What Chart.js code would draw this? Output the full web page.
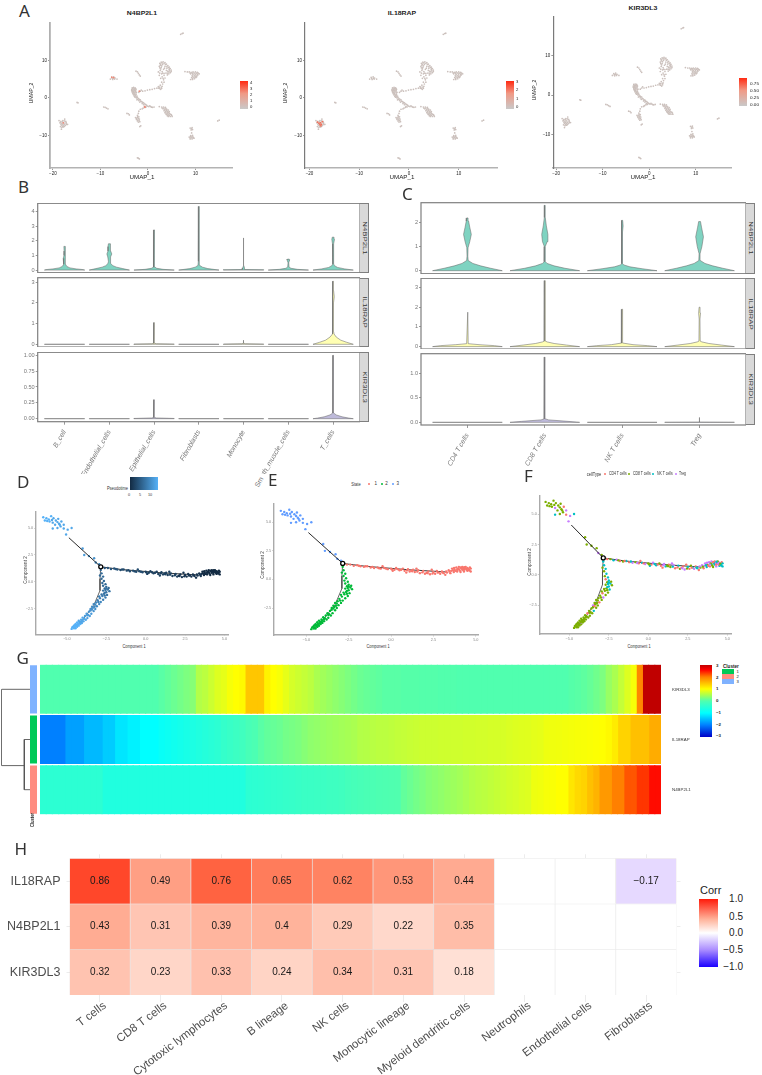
<!DOCTYPE html>
<html>
<head>
<meta charset="utf-8">
<script src="https://cdn.jsdelivr.net/npm/chart.js@4"></script>
<style>
  body { margin: 0; background: #fff; }
  #page { position: relative; width: 762px; height: 1075px; overflow: hidden; }
  #page canvas { position: absolute; }
  .txt { position: absolute; white-space: nowrap; line-height: 1; font-family: "Liberation Sans", sans-serif; }
  .box { position: absolute; box-sizing: border-box; }
</style>
</head>
<body>
<div id="page"></div>
<script>
// ---- Panel A: UMAP embedding, shared by the three genes
const umapPoints = [
  [2.5,9.2],[2.8,9.5],[3.2,9.6],[3.6,9.4],[3.9,9.0],[4.2,8.6],[4.5,8.2],[4.7,7.8],[4.9,7.4],[4.9,7.0],[4.7,6.7],[4.4,6.4],[4.1,6.1],
  [3.8,6.6],[4.2,7.1],[4.5,7.5],[4.0,7.9],[3.6,8.4],[3.1,8.9],[2.6,8.7],[2.4,8.4],[2.8,8.1],[3.3,7.6],[3.0,7.0],[2.6,7.3],[2.2,6.9],
  [2.9,6.4],[3.4,6.0],[2.4,6.0],[3.0,5.6],[3.6,5.3],[3.3,4.8],[2.9,4.2],[3.1,3.7],[2.6,3.4],[2.8,2.9],[2.3,2.6],[2.7,2.3],[2.2,3.0],
  [1.9,2.6],[1.4,2.5],[0.9,2.3],[0.4,2.2],[-0.1,2.1],[-0.6,1.9],[-1.1,1.8],[-1.6,1.8],[-1.9,1.5],[-1.4,2.1],
  [2.7,9.0],[3.0,9.3],[3.4,9.2],[3.7,8.9],[4.0,8.4],[4.3,8.1],[4.5,7.7],[4.6,7.2],[4.4,6.9],[4.1,6.6],[3.9,7.3],[3.5,7.9],[2.9,8.5],
  [2.5,8.0],[2.7,7.7],[3.1,6.6],[2.5,6.6],[3.4,6.5],[2.7,5.2],[3.2,5.2],[3.4,4.2],[3.0,3.1],[2.4,2.9],[2.5,2.5],[2.9,2.6],
  [-3.3,2.7],[-3.0,2.8],[-2.7,2.7],[-3.4,2.3],[-3.1,2.2],[-2.8,2.3],[-2.5,2.3],[-3.3,1.8],[-3.0,1.7],[-2.6,1.8],[-2.4,1.5],[-3.2,1.3],
  [-2.9,1.2],[-2.5,1.0],[-3.0,0.8],[-2.7,0.6],[-2.3,0.5],[-2.7,0.2],[-2.4,0.0],[-2.0,-0.2],[-2.3,-0.5],[-1.9,-0.7],[-1.6,-0.5],[-1.7,-1.1],
  [-1.3,-1.0],[-1.2,-1.5],[-0.9,-1.3],[-0.9,-1.8],[-0.5,-1.7],[-0.6,-2.2],[-0.2,-2.1],[0.2,-2.3],[0.6,-2.3],[1.0,-2.5],[1.3,-2.4],[-0.7,-2.5],[-1.0,-2.7],
  [-3.2,2.5],[-2.9,2.5],[-2.6,2.5],[-3.4,2.0],[-3.15,2.0],[-2.85,2.0],[-2.6,2.05],[-3.3,1.55],[-3.05,1.45],[-2.8,1.55],[-2.55,1.35],[-3.1,1.05],
  [-2.8,0.95],[-2.55,0.75],[-2.85,0.45],[-2.5,0.3],[-2.2,0.15],[-2.15,-0.35],[-1.8,-0.4],[-1.5,-0.85],[-1.1,-1.2],[-0.75,-1.55],[-0.3,-1.9],[0.0,-2.2],[0.4,-2.1],[0.8,-2.45],[-0.4,-2.4],
  [2.4,-2.3],[2.9,-2.4],[3.3,-2.4],[3.7,-2.5],[3.2,-2.9],[3.6,-3.0],[4.0,-3.0],[3.4,-3.4],[3.8,-3.5],[4.2,-3.5],[3.6,-3.9],[4.0,-4.0],
  [4.4,-3.9],[3.9,-4.4],[4.3,-4.5],[4.7,-4.3],[4.3,-4.9],[4.7,-4.9],[5.0,-4.6],[5.1,-4.9],
  [3.0,-2.7],[3.4,-2.7],[3.8,-2.8],[3.5,-3.2],[3.9,-3.25],[4.3,-3.2],[3.7,-3.7],[4.1,-3.75],[4.5,-3.65],[3.8,-4.2],[4.15,-4.25],[4.5,-4.15],[4.5,-4.6],[4.1,-4.7],[4.9,-4.4],
  [7.8,7.0],[8.3,6.9],[8.7,6.9],[9.1,6.8],[9.5,6.9],[10,6.9],[10.4,6.8],[9.0,6.4],[9.4,6.4],[9.9,6.4],[10.4,6.3],[10.8,6.4],[9.3,5.9],
  [9.8,5.9],[10.3,5.9],[9.2,5.4],[9.7,5.4],[10.1,5.4],[9.0,4.9],[9.4,4.9],
  [8.9,6.6],[9.3,6.65],[9.7,6.65],[10.2,6.6],[10.6,6.6],[9.5,6.15],[10,6.15],[10.5,6.1],[9.45,5.65],[9.95,5.65],[10.25,5.6],[9.4,5.15],[9.8,5.1],
  [-7.9,5.0],[-7.6,5.5],[-7.2,5.6],[-6.9,5.3],[-6.5,5.0],[-7.4,4.9],[-7.0,5.0],[-7.5,5.2],[-7.15,5.25],
  [-2.5,7.1],[-2.2,6.9],[-2.0,6.5],[-1.8,6.1],[-1.6,5.8],
  [-18.7,-6.0],[-18.3,-6.2],[-17.9,-6.0],[-17.5,-5.6],[-17.3,-6.2],[-18.5,-6.6],[-18.1,-6.7],[-17.7,-6.6],[-17.2,-6.8],[-16.9,-7.0],
  [-18.2,-7.2],[-17.8,-7.2],[-17.4,-7.3],[-18.1,-7.8],[-17.8,-7.7],[-18.2,-8.3],
  [-18.4,-6.4],[-18,-6.35],[-17.6,-6.1],[-17.2,-6.5],[-18.3,-6.95],[-17.95,-6.95],[-17.55,-6.95],[-17.1,-7.05],[-17.95,-7.5],[-17.6,-7.55],[-18.4,-7.6],
  [-9.3,-2.4],[-9.0,-2.5],[-8.7,-2.7],[-8.4,-2.9],[-14.7,-1.3],[-14.9,-1.2],[-4.4,-4.1],[-4.1,-4.2],[-3.9,-4.5],
  [-1.9,-3.5],[-2.0,-4.1],[-2.2,-4.6],[-2.6,-5.2],[-2.2,-5.2],[-1.9,-5.0],[-2.4,-5.7],[-2.1,-5.8],[-1.8,-5.6],[-2.0,-6.4],[-1.7,-6.3],
  [-2.4,-5.4],[-2.0,-5.4],[-2.15,-4.9],[-2.2,-6.1],[-1.85,-6.0],
  [-1.7,-7.6],[-1.5,-7.4],[-1.6,-3.0],[-1.2,-2.9],[15.0,-5.9],[14.7,-6.1],
  [8.9,-8.0],[9.3,-7.9],[9.1,-8.5],[9.4,-8.4],[9.0,-10.0],[9.4,-9.9],[8.7,-10.4],[9.1,-10.5],[9.5,-10.4],[8.9,-10.9],[9.3,-10.9],[9.7,-10.7],[9.2,-9.3],
  [9.0,-10.2],[9.3,-10.2],[8.9,-10.65],[9.3,-10.65],[9.6,-10.55],[9.2,-8.2],
  [-2.0,-16],[-1.8,-16.2],[-2.2,-15.9],[7.2,17.1],[6.9,16.9],[7.4,17.2]
];
const n4bp2l1Hits = [[-7.6,5.5],[-7.2,5.4],[-0.7,-2.3],[-0.6,-2.5],[-1.8,1.8],[-17.8,-6.6]];
const il18rapHits = [[-18.1,-6.7],[-17.8,-6.6],[-17.9,-7.1],[-17.6,-7.0],[-17.4,-6.3],[-18.4,-6.4],[-17.7,-7.4]];
const umapXTicks = [-20, -10, 0, 10];
const umapYTicks = [-10, 0, 10];

// ---- Panels B and C: violin profiles as [expression, half width in category units]
const flat = [[0,0.45],[0.001,0.45]];
const broadCells = ["B_cell","Endothelial_cells","Epithelial_cells","Fibroblasts","Monocyte","Smooth_muscle_cells","T_cells"];
const tCells = ["CD4 T cells","CD8 T cells","NK T cells","Treg"];

const broadN4bp2l1 = [
  [[0,.45],[.03,.42],[.08,.26],[.15,.12],[.25,.05],[.4,.02],[.6,.02],[.8,.03],[1,.012],[1.3,.01],[1.62,.015]],
  [[0,.45],[.1,.3],[.2,.16],[.3,.08],[.45,.03],[.6,.02],[.9,.035],[1.1,.055],[1.3,.03],[1.6,.03],[1.8,.02]],
  [[0,.45],[.05,.2],[.12,.06],[.2,.02],[.5,.01],[2,.01],[2.75,.005]],
  [[0,.45],[.1,.2],[.2,.08],[.32,.02],[.6,.008],[1,.015],[2,.01],[4.35,.006]],
  [[0,.45],[.02,.45],[.04,.03],[.15,.02],[.3,.005],[2.2,.005]],
  [[0,.45],[.05,.2],[.12,.06],[.2,.015],[.5,.008],[.7,.03],[.75,.02]],
  [[0,.45],[.08,.26],[.18,.1],[.3,.03],[.42,.01],[1,.01],[1.3,.008],[1.8,.015],[2.1,.03],[2.25,.02]]
];
const broadIl18rap = [
  flat, flat,
  [[0,.45],[.01,.45],[.03,.05],[.05,.01],[1.05,.004]],
  flat,
  [[0,.45],[.01,.45],[.03,.04],[.05,.008],[.2,.004]],
  flat,
  [[0,.45],[.1,.3],[.2,.17],[.35,.07],[.5,.02],[.6,.012],[1.2,.006],[2,.01],[2.3,.025],[2.6,.01],[3.05,.005]]
];
const broadKir3dl3 = [
  flat, flat,
  [[0,.45],[.004,.45],[.012,.05],[.02,.01],[.3,.004]],
  flat, flat, flat,
  [[0,.45],[.01,.35],[.03,.2],[.06,.07],[.09,.01],[.11,.006],[1,.004]]
];
const tN4bp2l1 = [
  [[0,.45],[.1,.3],[.2,.17],[.3,.07],[.42,.01],[.6,.005],[.95,.008],[1.2,.03],[1.5,.05],[1.8,.03],[2.05,.015],[2.18,.008]],
  [[0,.45],[.1,.26],[.2,.12],[.3,.03],[.37,.008],[1,.006],[1.2,.03],[1.5,.04],[1.85,.02],[2.2,.006],[2.7,.005]],
  [[0,.45],[.08,.26],[.16,.1],[.24,.02],[.29,.006],[1.6,.004],[1.85,.012],[2.08,.006]],
  [[0,.45],[.1,.3],[.2,.17],[.3,.07],[.42,.01],[.7,.006],[1,.03],[1.4,.05],[1.8,.025],[2.03,.012]]
];
const tIl18rap = [
  [[0,.45],[.05,.35],[.1,.15],[.15,.01],[1.75,.004]],
  [[0,.45],[.08,.28],[.16,.12],[.24,.03],[.28,.008],[1.6,.006],[2.6,.008],[3.35,.004]],
  [[0,.45],[.05,.33],[.1,.14],[.18,.01],[1.9,.005]],
  [[0,.45],[.08,.28],[.16,.12],[.24,.03],[.28,.008],[1.4,.005],[1.7,.012],[2,.006]]
];
const tKir3dl3 = [
  flat,
  [[0,.45],[.02,.3],[.05,.05],[.07,.008],[1.33,.003]],
  flat,
  [[0,.45],[.002,.45],[.005,.004],[.1,.003]]
];

// ---- Panels D, E, F: cells on the trajectory as [component 1, component 2, pseudotime, cell type]
const trajUpper = [
  [-6.5,6.0,13,1],[-6.3,5.9,13,1],[-6.4,5.7,13,1],[-6.15,5.8,13,1],[-6.0,6.1,13,1],[-6.1,5.6,13,1],[-5.85,5.9,12,1],[-5.9,5.5,12,3],[-5.7,5.7,12,1],
  [-5.55,5.85,12,1],[-5.75,5.3,12,1],[-5.5,5.4,12,1],[-5.35,5.6,12,0],[-5.4,5.15,12,1],[-5.2,5.3,12,3],[-5.2,4.95,12,0],[-4.95,4.85,12,3],[-4.7,5.0,12,2],
  [-5.6,5.0,12,1],[-5.05,4.4,12,3],[-5.9,4.95,12,2],[-6.25,5.65,13,1],[-5.95,5.75,12,1],[-5.6,5.55,12,1],[-5.45,5.3,12,1],
  [-4.0,3.1,11,1],[-3.9,2.5,11,1],[-3.6,2.4,10,1],[-3.27,2.2,10,1],[-3.17,1.8,10,3],[-2.95,1.65,9,1]
];
const trajLower = [
  [-2.85,1.1,6,2],[-2.8,.8,6,2],[-2.9,.6,6,1],[-2.7,.5,6,2],[-2.8,.3,6,1],[-2.65,.1,6,2],[-2.75,-.1,6,1],[-2.55,-.2,6,2],[-2.7,-.35,6,0],[-2.5,-.45,6,2],
  [-2.6,-.6,6,1],[-2.4,-.7,7,2],[-2.7,-.8,7,1],[-2.5,-.95,7,2],[-2.3,-.85,7,1],[-2.65,-1.1,7,1],[-2.45,-1.2,7,2],[-2.75,-1.3,8,1],[-2.55,-1.45,8,1],[-2.9,-1.5,8,0],
  [-2.7,-1.65,8,1],[-3.05,-1.7,8,1],[-2.85,-1.85,9,3],[-3.15,-1.9,9,1],[-2.95,-2.05,9,1],[-3.3,-2.05,9,1],[-3.1,-2.25,9,0],[-3.4,-2.3,9,1],[-3.2,-2.5,10,1],[-3.5,-2.5,10,3],
  [-3.3,-2.7,10,1],[-3.6,-2.75,10,1],[-3.45,-2.95,11,2],[-3.75,-2.95,11,1],[-3.55,-3.15,11,1],[-3.85,-3.15,11,0],[-3.7,-3.35,11,1],[-4.0,-3.3,12,1],[-3.8,-3.5,12,1],[-4.1,-3.5,12,1],
  [-3.95,-3.65,12,1],[-4.25,-3.6,12,1],[-4.05,-3.8,12,1],[-4.35,-3.75,13,1],[-4.15,-3.9,13,1],[-4.45,-3.9,13,1],[-4.25,-4.05,13,1],[-4.55,-4.05,13,1],[-4.35,-4.15,13,1],[-4.65,-4.2,13,1],
  [-4.45,-4.3,13,1],[-4.7,-4.35,13,1],[-4.2,-3.7,12,1],[-4.4,-4.0,13,1],[-4.5,-4.2,13,1],[-4.3,-3.95,13,3],[-3.65,-3.05,11,1],[-3.35,-2.4,10,1],[-2.6,-1.0,7,2],[-2.5,-.6,7,2],
  [-2.55,-.75,7,2],[-2.35,-.55,6,1],[-2.6,-1.25,7,1],[-2.8,-1.15,7,1],[-3.0,-1.85,8,1],[-2.95,-1.35,8,1],[-3.2,-2.1,9,1],[-3.25,-2.3,9,1],[-3.5,-2.65,10,1],[-3.4,-2.55,10,0],
  [-3.7,-3.1,11,1],[-3.9,-3.4,12,1],[-3.95,-3.45,12,1],[-4.1,-3.7,12,1],[-4.2,-3.85,13,1],[-4.3,-3.85,13,1],[-4.4,-4.1,13,1],[-4.6,-4.15,13,1],[-4.55,-4.3,13,1],[-4.5,-4.0,13,1],
  [-4.35,-4.0,13,1],[-4.05,-3.6,12,1],[-4.15,-3.75,12,1]
];
const trajRight = [
  [-2.6,1.3,4,0],[-2.4,1.3,4,1],[-2.2,1.2,4,2],[-2.0,1.25,4,3],[-1.8,1.15,4,0],[-1.6,1.1,3,1],[-1.4,1.15,3,2],[-1.2,1.05,3,0],[-1.0,1.0,3,3],[-.8,1.05,3,1],
  [-.6,.95,3,0],[-.4,1.0,3,2],[-.2,.9,3,3],[0,.95,2,1],[.2,.85,2,0],[.3,1.0,2,3],[.5,.8,2,2],[.7,.95,2,1],[.8,.75,2,0],[1.0,.9,2,3],
  [1.1,.7,2,2],[1.3,.85,2,0],[1.4,.65,2,1],[1.6,.8,2,3],[1.7,.55,2,0],[1.9,.75,2,2],[2.0,.5,2,1],[2.2,.7,1,0],[2.3,.45,1,3],[2.5,.65,1,2],
  [2.6,.5,1,0],[2.7,.75,1,1],[2.9,.5,1,3],[3.0,.7,1,0],[3.1,.55,1,2],[3.3,.6,1,1],[3.4,.8,1,3],[3.5,.55,1,0],[3.6,.95,0,3],[3.7,.65,0,2],
  [3.75,.85,0,1],[3.85,1.05,0,3],[3.9,.7,0,0],[4.0,.9,0,2],[4.0,1.1,0,3],[4.1,.65,0,1],[4.2,.85,0,2],[4.2,1.1,0,0],[4.3,.7,0,3],[4.35,.95,0,2],
  [4.4,1.1,0,1],[4.5,.75,0,2],[4.5,1.0,0,3],[4.6,.85,0,2],[4.65,1.05,0,0],[4.7,.7,0,2],[4.7,.95,0,2],[3.2,.4,1,0],[2.4,.85,1,0],[1.5,.95,2,3],
  [.9,.6,2,0],[.1,.75,2,2],[-.5,1.15,3,0],[3.55,.75,1,3],[3.95,.95,0,1],[4.25,1.0,0,3],[4.45,.85,0,0],[2.8,.62,1,2],[2.1,.58,1,0],[1.2,.78,2,1],
  [-1.9,1.2,4,1],[-1.5,1.15,3,0],[-1.1,1.1,3,2],[-.7,.98,3,3],[-.3,.95,3,0],[.05,.88,2,1],[.4,.9,2,2],[.6,.85,2,0],[.95,.8,2,3],[1.25,.72,2,1],
  [1.55,.68,2,2],[1.85,.62,2,0],[2.15,.55,1,3],[2.45,.52,1,1],[2.75,.6,1,0],[3.05,.62,1,2],[3.25,.7,1,3],[3.45,.68,1,1],[3.65,.8,0,2],[3.8,.75,0,0],
  [3.9,.85,0,3],[4.05,.78,0,1],[4.15,.98,0,2],[4.3,.85,0,0],[4.42,.95,0,3],[4.55,.92,0,1],[4.62,.78,0,2],[3.72,1.0,0,3],[4.1,1.05,0,0],[4.32,1.08,0,2]
];
const treeUpper = [[-4.875,4.1],[-2.85,1.4]];
const treeRight = [[-2.85,1.4],[-1.5,1.15],[1,.85],[3.3,.65]];
const treeLower = [[-2.85,1.4],[-2.9,.3],[-2.9,-.8],[-3.3,-2.2],[-4.2,-3.87]];
const branchPoint = [[-2.85,1.4]];
const trajXTicks = [-5, -2.5, 0, 2.5, 5];
const trajYTicks = [-2.5, 0, 2.5, 5];

// ---- Panel G: scaled expression along pseudotime
const heatGenes = ["KIR3DL3","IL18RAP","N4BP2L1"];
const heatKir3dl3 = [
  0,0,0,0,0,0,0,0,0,0,0,0,0,0,0,0,0,0,0,.05,.1,.15,.2,.25,.3,.55,.6,.7,.8,.85,.95,1,1.05,1.45,1.45,1.45,1.1,1,.95,.85,
  .75,.7,.65,.6,.5,.45,.4,.35,.3,.25,.2,.15,.12,.1,.08,.05,.05,.05,.03,.03,.03,.02,.02,.02,.01,.01,.01,0,0,0,0,0,0,0,0,0,0,0,0,0,
  0,0,0,0,0,.03,.05,.08,.12,.18,.25,.4,.5,.65,.8,.95,1.95,3,3,3
];
const heatIl18rap = [
  -2,-2,-2,-2,-1.75,-1.75,-1.75,-1.55,-1.55,-1.55,-1.4,-1.4,-1.2,-1.2,-1.1,-1.1,-1,-1,-1,-.9,-.85,-.8,-.75,-.7,-.65,-.6,-.55,-.5,-.45,-.35,
  -.3,-.25,-.2,-.1,-.05,.05,.1,.12,.15,.2,.22,.25,.3,.35,.37,.4,.42,.44,.46,.48,.5,.55,.56,.58,.6,.6,.62,.64,.65,.67,.68,.7,.7,.7,.71,.71,.72,.72,.73,.73,
  .74,.74,.75,.75,.76,.78,.8,.81,.82,.84,.85,.9,.91,.92,.93,.94,.95,.96,.97,.98,1,1.05,1.15,1.35,1.35,1.5,1.5,1.5,1.65,1.65
];
const heatN4bp2l1 = [
  -.45,-.45,-.45,-.45,-.45,-.45,-.45,-.45,-.45,-.45,-.6,-.6,-.6,-.6,-.6,-.6,-.6,-.6,-.6,-.6,-.6,-.6,-.6,-.6,-.6,-.6,-.6,-.6,-.6,-.6,-.6,-.6,-.6,
  -.45,-.44,-.42,-.4,-.38,-.36,-.34,-.32,-.3,-.28,-.27,-.26,-.25,-.23,-.22,-.2,-.15,-.13,-.1,-.08,-.06,-.04,-.02,-.01,0,.1,.15,.2,.25,.3,.33,.36,.4,.43,.46,.5,
  .55,.58,.6,.63,.66,.7,.73,.75,.78,.8,.9,.92,.95,.97,1,1,1.2,1.3,1.35,1.5,1.6,1.8,1.8,2,2,2.2,2.2,2.35,2.35,2.55,2.55
];
const clusterColors = ["#7FB2FF","#00C957","#FF8C80"];
// dendrogram legs: [height, row]
const dendroRoot = [[0,1],[1,1],[1,2.52],[.2,2.52]];
const dendroSub = [[0,2],[.2,2],[.2,3],[0,3]];
const heatTicks = [3, 2, 1, 0, -1, -2, -3];

// ---- Panel H: correlation matrix
const corrCells = ["T cells","CD8 T cells","Cytotoxic lymphocytes","B lineage","NK cells","Monocytic lineage","Myeloid dendritic cells","Neutrophils","Endothelial cells","Fibroblasts"];
const corrGenes = ["KIR3DL3","N4BP2L1","IL18RAP"];
const corrIl18rap = [0.86,0.49,0.76,0.65,0.62,0.53,0.44,null,null,-0.17];
const corrN4bp2l1 = [0.43,0.31,0.39,0.4,0.29,0.22,0.35,null,null,null];
const corrKir3dl3 = [0.32,0.23,0.33,0.24,0.34,0.31,0.18,null,null,null];

// ---- Helpers
Chart.defaults.animation = false;
Chart.defaults.responsive = false;
Chart.defaults.events = [];
Chart.defaults.plugins.legend.display = false;
Chart.defaults.plugins.tooltip.enabled = false;
Chart.defaults.font.family = '"Liberation Sans", sans-serif';

const page = document.getElementById("page");

function addText(text, x, y, opts) {
  const o = opts || {};
  const el = document.createElement("div");
  el.className = "txt";
  el.textContent = text;
  el.style.left = x + "px";
  el.style.top = y + "px";
  el.style.fontSize = (o.size || 5) + "px";
  el.style.color = o.color || "#222";
  if (o.weight) el.style.fontWeight = o.weight;
  if (o.family) el.style.fontFamily = o.family;
  const ax = o.anchor === "start" ? "0" : o.anchor === "end" ? "-100%" : "-50%";
  el.style.transformOrigin = (o.anchor === "start" ? "0" : o.anchor === "end" ? "100%" : "50%") + " 50%";
  el.style.transform = "translate(" + ax + ",-50%) rotate(" + (o.rotate || 0) + "deg) scaleX(" + (o.stretch || 1) + ")";
  page.appendChild(el);
}

function addBox(left, top, right, bottom, style) {
  const el = document.createElement("div");
  el.className = "box";
  el.style.left = left + "px";
  el.style.top = top + "px";
  el.style.width = right - left + "px";
  el.style.height = bottom - top + "px";
  Object.assign(el.style, style);
  page.appendChild(el);
}

function addDot(x, y, color) {
  addBox(x - 1, y - 1, x + 1, y + 1, { background: color, borderRadius: "50%" });
}

// puts a chart on the page so that its plot area sits exactly on `area`
function placeChart(area, margin, config) {
  const cl = Math.floor(area.left - margin.l);
  const ct = Math.floor(area.top - margin.t);
  const cr = Math.ceil(area.right + margin.r);
  const cb = Math.ceil(area.bottom + margin.b);
  const m = { left: area.left - cl, top: area.top - ct, right: cr - area.right, bottom: cb - area.bottom };
  const canvas = document.createElement("canvas");
  canvas.width = cr - cl;
  canvas.height = cb - ct;
  canvas.style.left = cl + "px";
  canvas.style.top = ct + "px";
  page.appendChild(canvas);

  const used = {};
  for (const id of Object.keys(config.options.scales)) {
    const s = config.options.scales[id];
    const pos = s.position || (id[0] === "x" ? "bottom" : "left");
    used[pos] = true;
    s.afterFit = function (scale) {
      if (pos === "top" || pos === "bottom") scale.height = m[pos];
      else scale.width = m[pos];
      scale.paddingLeft = scale.paddingRight = scale.paddingTop = scale.paddingBottom = 0;
    };
  }
  config.options.layout = {
    padding: {
      left: used.left ? 0 : m.left,
      top: used.top ? 0 : m.top,
      right: used.right ? 0 : m.right,
      bottom: used.bottom ? 0 : m.bottom,
    },
  };
  return new Chart(canvas, config);
}

function linearAxis(min, max, tickValues, look) {
  return {
    type: "linear",
    min: min,
    max: max,
    position: look.position,
    afterBuildTicks: function (scale) {
      scale.ticks = tickValues.map((v) => ({ value: v }));
    },
    ticks: {
      display: look.labels !== false,
      font: { size: look.size, style: look.style },
      color: look.color,
      padding: look.padding === undefined ? 1 : look.padding,
      autoSkip: false,
      minRotation: look.rotation || 0,
      maxRotation: look.rotation || 0,
      callback: look.format,
    },
    grid: {
      display: tickValues.length > 0,
      drawOnChartArea: false,
      drawTicks: true,
      tickLength: look.tickLength === undefined ? 2 : look.tickLength,
      tickColor: look.tickColor || "#555",
      tickWidth: 0.6,
    },
    border: { display: look.line !== false, color: look.line, width: look.lineWidth || 1 },
  };
}

function signed(v) {
  return v < 0 ? "\u2212" + Math.abs(v) : String(v);
}
function signedFixed(v) {
  return v < 0 ? "\u2212" + Math.abs(v).toFixed(1) : v.toFixed(1);
}

function asXY(list) {
  return list.map((p) => ({ x: p[0], y: p[1] }));
}

// ---- Panel A
function umapPanel(area, xr, yr, hits, hitColor, axisColor, axisWidth) {
  placeChart(area, { l: 16, t: 0, r: 2, b: 8 }, {
    type: "scatter",
    data: {
      datasets: [
        { data: asXY(hits), pointRadius: 0.9, pointBackgroundColor: hitColor, pointBorderWidth: 0 },
        { data: asXY(umapPoints), pointRadius: 0.85, pointBackgroundColor: "#cbc0bc", pointBorderWidth: 0 },
      ],
    },
    options: {
      scales: {
        x: linearAxis(xr[0], xr[1], umapXTicks, { size: 4.5, color: "#222", format: signed, line: "#b3b3b3", lineWidth: 1.6 }),
        y: linearAxis(yr[0], yr[1], umapYTicks, { size: 4.5, color: "#222", format: signed, line: axisColor, lineWidth: axisWidth }),
      },
    },
  });
}

umapPanel({ left: 50, top: 19, right: 234, bottom: 168 }, [-20.6, 17.7], [-18.6, 19.9], n4bp2l1Hits, "#ee8a78", "#b0b0b0", 1.8);
umapPanel({ left: 305, top: 19, right: 498.7, bottom: 168 }, [-20.9, 17.7], [-18.6, 19.9], il18rapHits, "#f0705a", "#7a7a7a", 1.2);
umapPanel({ left: 553.3, top: 13, right: 732.7, bottom: 168 }, [-20.6, 17.6], [-18.6, 19.9], [], "#f0705a", "#7a7a7a", 1.2);

function umapText(title, cx, titleY, yLabelX, yLabelY) {
  addText(title, cx, titleY, { size: 6, weight: "bold", stretch: 1.15 });
  addText("UMAP_1", cx, 178, { size: 5.2, stretch: 1.2 });
  addText("UMAP_2", yLabelX, yLabelY, { size: 5.2, rotate: -90 });
}
umapText("N4BP2L1", 141.7, 13.3, 32, 93);
umapText("IL18RAP", 402, 13.3, 286, 93);
umapText("KIR3DL3", 642.7, 8, 535, 90);

const exprGradient = { background: "linear-gradient(to top, #c9c9c9, #f09a86 55%, #ff2a12)" };
addBox(240, 81, 248, 108.5, exprGradient);
addBox(506, 81, 514, 108.5, exprGradient);
addBox(739, 78, 747, 106, exprGradient);
[["4",83.3],["3",89.3],["2",95],["1",101],["0",106.7]].forEach((t) => addText(t[0], 250, t[1], { size: 4.2, anchor: "start" }));
[["3",82],["2",90.3],["1",98.7],["0",107]].forEach((t) => addText(t[0], 516, t[1], { size: 4.2, anchor: "start" }));
[["0.75",84],["0.50",91],["0.25",98],["0.00",105]].forEach((t) => addText(t[0], 750, t[1], { size: 4.2, anchor: "start", stretch: 1.1 }));

// ---- Panels B and C
const panelFrame = {
  id: "panelFrame",
  afterDraw(chart) {
    const a = chart.chartArea;
    const c = chart.ctx;
    c.save();
    c.strokeStyle = "#7f7f7f";
    c.lineWidth = 1.2;
    c.strokeRect(a.left, a.top, a.right - a.left, a.bottom - a.top);
    c.restore();
  },
};

function violinOutline(pos, profile) {
  const right = profile.map((p) => ({ x: pos + p[1], y: p[0] }));
  const left = profile.map((p) => ({ x: pos - p[1], y: p[0] })).reverse();
  return right.concat(left, [right[0]]);
}

function violinRow(area, profiles, fill, xMax, yr, yTicks, yFormat, labels, stripRight, gene) {
  const xTicks = labels ? labels.map((n, i) => i + 1) : [];
  const datasets = profiles.map((profile, i) => ({
    data: violinOutline(i + 1, profile),
    showLine: true,
    fill: "shape",
    backgroundColor: fill,
    borderColor: "#6a6a6a",
    borderWidth: 0.55,
    pointRadius: 0,
  }));
  placeChart(area, { l: 20, t: 0, r: 0, b: labels ? 52 : 0 }, {
    type: "scatter",
    data: { datasets: datasets },
    options: {
      scales: {
        x: linearAxis(0.4, xMax, xTicks, {
          size: 7, style: "italic", color: "#777", rotation: 60, padding: 4, tickLength: 3,
          line: false, format: (v) => (labels ? labels[v - 1] : ""),
        }),
        y: linearAxis(yr[0], yr[1], yTicks, {
          size: 5.6, color: "#777", padding: 1, tickLength: 2, line: false, format: yFormat,
        }),
      },
    },
    plugins: [panelFrame],
  });
  addBox(area.right, area.top, stripRight, area.bottom, { background: "#d9d9d9", border: "1.2px solid #7f7f7f", borderLeft: "none" });
  addText(gene, (area.right + stripRight) / 2, (area.top + area.bottom) / 2, { size: 6, rotate: 90, color: "#333", stretch: 1.3 });
}

const plain = (v) => String(v);
const twoPlaces = (v) => v.toFixed(2);
const onePlace = (v) => v.toFixed(1);

violinRow({ left: 37.7, top: 203.3, right: 360, bottom: 272.7 }, broadN4bp2l1, "#7fd3c1", 7.6, [-0.18, 4.57], [0,1,2,3,4], plain, null, 369.3, "N4BP2L1");
violinRow({ left: 37.7, top: 277.7, right: 360, bottom: 347 }, broadIl18rap, "#FFFFB3", 7.6, [-0.13, 3.22], [0,1,2,3], plain, null, 369.3, "IL18RAP");
violinRow({ left: 37.7, top: 352.3, right: 360, bottom: 421.7 }, broadKir3dl3, "#BEBADA", 7.6, [-0.047, 1.047], [0,.25,.5,.75,1], twoPlaces, broadCells, 369.3, "KIR3DL3");

violinRow({ left: 421, top: 202.7, right: 746, bottom: 273.7 }, tN4bp2l1, "#7fd3c1", 4.6, [-0.124, 2.81], [0,1,2], plain, null, 755, "N4BP2L1");
violinRow({ left: 421, top: 278.3, right: 746, bottom: 349 }, tIl18rap, "#FFFFB3", 4.6, [-0.12, 3.47], [0,1,2,3], plain, null, 755, "IL18RAP");
violinRow({ left: 421, top: 353.7, right: 746, bottom: 425 }, tKir3dl3, "#BEBADA", 4.6, [-0.054, 1.40], [0,.5,1], onePlace, tCells, 755, "KIR3DL3");

// tail of the clipped "Smooth_muscle_cells" label, left showing under the B axis
addText("Sm", 258.5, 481.5, { size: 7, rotate: -60, color: "#777" });

// ---- Panels D, E, F
const typeColors = ["#F8766D", "#7CAE00", "#00BFC4", "#C77CFF"];

function pseudotimeColor(t) {
  const f = t / 13;
  const r = Math.round(19 + (86 - 19) * f);
  const g = Math.round(43 + (177 - 43) * f);
  const b = Math.round(67 + (247 - 67) * f);
  return "rgb(" + r + "," + g + "," + b + ")";
}

function cellsDataset(list, colorOf) {
  return {
    data: list.map((p) => ({ x: p[0], y: p[1], t: p[2], c: p[3] })),
    pointRadius: 1.2,
    pointBorderWidth: 0,
    pointBackgroundColor: (ctx) => (ctx.raw ? colorOf(ctx.raw) : "#000"),
  };
}

function treeDataset(list, color) {
  return { data: asXY(list), showLine: true, borderColor: color, borderWidth: 0.9, pointRadius: 0 };
}

function trajectoryPanel(area, xr, yr, colorUpper, colorLower, colorRight) {
  placeChart(area, { l: 16, t: 0, r: 2, b: 8 }, {
    type: "scatter",
    data: {
      datasets: [
        { data: asXY(branchPoint), pointRadius: 2, pointBackgroundColor: "#fff", pointBorderColor: "#000", pointBorderWidth: 1.3 },
        treeDataset(treeUpper, "#111"),
        cellsDataset(trajRight, colorRight),
        cellsDataset(trajLower, colorLower),
        cellsDataset(trajUpper, colorUpper),
        treeDataset(treeRight, "#222"),
        treeDataset(treeLower, "#555"),
      ],
    },
    options: {
      scales: {
        x: linearAxis(xr[0], xr[1], trajXTicks, { size: 3.8, color: "#888", format: signedFixed, line: "#aaa", lineWidth: 1.4, tickColor: "#aaa", tickLength: 1.5 }),
        y: linearAxis(yr[0], yr[1], trajYTicks, { size: 3.8, color: "#888", format: signedFixed, line: "#aaa", lineWidth: 1.4, tickColor: "#aaa", tickLength: 1.5 }),
      },
    },
  });
}

const byPseudotime = (p) => pseudotimeColor(p.t);
const byType = (p) => typeColors[p.c];
trajectoryPanel({ left: 35.7, top: 506.7, right: 231.7, bottom: 634.3 }, [-6.98, 5.27], [-4.85, 6.55], byPseudotime, byPseudotime, byPseudotime);
trajectoryPanel({ left: 273.7, top: 498, right: 481.7, bottom: 635 }, [-6.92, 5.17], [-4.86, 6.66], () => "#619CFF", () => "#00BA38", () => "#F8766D");
trajectoryPanel({ left: 539.3, top: 490, right: 735, bottom: 634 }, [-6.9, 5.28], [-4.85, 6.54], byType, byType, byType);

addText("Component 1", 134, 646.5, { size: 4.8, color: "#333", stretch: 0.8 });
addText("Component 1", 378, 646.5, { size: 4.8, color: "#333", stretch: 0.8 });
addText("Component 1", 639, 646.5, { size: 4.8, color: "#333", stretch: 0.8 });
addText("Component 2", 26, 570, { size: 4.6, rotate: -90, color: "#444" });
addText("Component 2", 263, 565, { size: 4.6, rotate: -90, color: "#444" });
addText("Component 2", 530, 562, { size: 4.6, rotate: -90, color: "#444" });

addText("Pseudotime", 128, 488, { size: 5, anchor: "end", color: "#333", stretch: 0.8 });
addBox(130, 476.7, 157.7, 490.3, { background: "linear-gradient(to right, #132B43, #56B1F7)" });
[["0",129],["5",140],["10",150]].forEach((t) => addText(t[0], t[1], 495.7, { size: 3.8, color: "#333" }));

addText("State", 356, 484, { size: 5, color: "#333", stretch: 0.8 });
addDot(369, 484, "#F8766D"); addText("1", 375.7, 484, { size: 4.5, color: "#333" });
addDot(382, 484, "#00BA38"); addText("2", 386.5, 484, { size: 4.5, color: "#333" });
addDot(393, 484, "#619CFF"); addText("3", 397.7, 484, { size: 4.5, color: "#333" });

addText("cellType", 594, 474.3, { size: 5, color: "#333", stretch: 0.8 });
[["CD4 T cells", 605, 608.5], ["CD8 T cells", 629.3, 633], ["NK T cells", 653.3, 657], ["Treg", 675.7, 679.3]].forEach((t, i) => {
  addDot(t[1], 474.3, typeColors[i]);
  addText(t[0], t[2], 474.3, { size: 4.8, anchor: "start", color: "#333", stretch: 0.72 });
});

// ---- Panel G
const heatStops = [
  [-3,[0,0,200]],[-2,[0,128,255]],[-1,[0,255,255]],[0,[80,255,175]],[0.5,[170,255,80]],[1,[255,255,0]],[2,[255,128,0]],[2.6,[255,0,0]],[3,[192,0,0]]
];

function rampColor(stops, v) {
  let i = 0;
  while (i < stops.length - 2 && v > stops[i + 1][0]) i++;
  const a = stops[i];
  const b = stops[i + 1];
  const f = Math.min(1, Math.max(0, (v - a[0]) / (b[0] - a[0])));
  const c = a[1].map((x, k) => Math.round(x + (b[1][k] - x) * f));
  return "rgb(" + c.join(",") + ")";
}

function heatColor(v) {
  return rampColor(heatStops, v);
}

const heatColumns = heatKir3dl3.map((v, i) => ({
  data: [1, 1, 1],
  backgroundColor: [heatColor(heatKir3dl3[i]), heatColor(heatIl18rap[i]), heatColor(heatN4bp2l1[i])],
  borderWidth: 0,
  inflateAmount: 0.6,
  barPercentage: 0.95,
  categoryPercentage: 1,
}));

placeChart({ left: 40, top: 664.2, right: 661, bottom: 814.8 }, { l: 0, t: 0, r: 36, b: 0 }, {
  type: "bar",
  data: { labels: heatGenes, datasets: heatColumns },
  options: {
    indexAxis: "y",
    scales: {
      x: { type: "linear", stacked: true, min: 0, max: heatColumns.length, display: false },
      y: {
        type: "category",
        stacked: true,
        position: "right",
        ticks: { font: { size: 4.4 }, color: "#333", padding: 3, autoSkip: false },
        grid: { display: false },
        border: { display: false },
      },
    },
  },
});

// annotation column beside the heatmap
placeChart({ left: 30, top: 664.2, right: 37, bottom: 814.8 }, { l: 0, t: 0, r: 0, b: 0 }, {
  type: "bar",
  data: { labels: heatGenes, datasets: [{ data: [1, 1, 1], backgroundColor: clusterColors, barPercentage: 0.96, categoryPercentage: 1, borderWidth: 0 }] },
  options: {
    indexAxis: "y",
    scales: {
      x: { type: "linear", min: 0, max: 1, display: false },
      y: { type: "category", display: false },
    },
  },
});

// dendrogram
placeChart({ left: 1.5, top: 664.2, right: 30, bottom: 814.8 }, { l: 0, t: 0, r: 0, b: 0 }, {
  type: "scatter",
  data: {
    datasets: [
      { data: asXY(dendroRoot), showLine: true, borderColor: "#555", borderWidth: 0.9, pointRadius: 0 },
      { data: asXY(dendroSub), showLine: true, borderColor: "#555", borderWidth: 0.9, pointRadius: 0 },
    ],
  },
  options: {
    scales: {
      x: { type: "linear", reverse: true, min: 0, max: 1, display: false },
      y: { type: "linear", reverse: true, min: 0.5, max: 3.5, display: false },
    },
  },
});

addText("Cluster", 33, 820, { size: 4.6, weight: "bold", rotate: -90, stretch: 0.9 });
addBox(699.5, 665, 712, 736.7, {
  background: "linear-gradient(to top, #0000C8 0%, #0080FF 16.7%, #00FFFF 33.3%, #50FFAF 50%, #AAFF50 58.3%, #FFFF00 66.7%, #FF8000 83.3%, #FF0000 93.3%, #C00000 100%)",
});
heatTicks.forEach((v, i) => addText(signed(v), 716, 666 + i * 11.7, { size: 4.4, anchor: "start", weight: "bold" }));
addText("Cluster", 723, 666.5, { size: 4.6, anchor: "start", weight: "bold" });
[["1", 1], ["2", 2], ["3", 0]].forEach((t, i) => {
  addBox(722, 669.3 + i * 4.9, 733.7, 674.2 + i * 4.9, { background: clusterColors[t[1]] });
  addText(t[0], 736.5, 671.7 + i * 4.9, { size: 4.2, anchor: "start" });
});

// ---- Panel H
const corrStops = [
  [-1,[26,0,255]],[-0.5,[170,140,255]],[-0.17,[230,217,255]],[0,[255,255,255]],[0.2,[255,220,208]],[0.4,[255,179,155]],[0.6,[255,135,103]],[0.8,[255,90,56]],[1,[255,26,10]]
];

function corrColor(v) {
  return v === null ? "#ffffff" : rampColor(corrStops, v);
}

function corrDataset(values) {
  return {
    data: values.map(() => 1),
    corr: values,
    backgroundColor: values.map(corrColor),
    borderColor: values.map((v) => (v === null ? "#ececec" : "rgba(200,190,190,0.35)")),
    borderWidth: 0.7,
    barPercentage: 1,
    categoryPercentage: 1,
  };
}

const corrLabels = {
  id: "corrLabels",
  afterDatasetsDraw(chart) {
    const c = chart.ctx;
    c.save();
    c.font = '10px "Liberation Sans", sans-serif';
    c.fillStyle = "#1a1a1a";
    c.textAlign = "center";
    c.textBaseline = "middle";
    chart.data.datasets.forEach((ds, d) => {
      chart.getDatasetMeta(d).data.forEach((bar, i) => {
        const v = ds.corr[i];
        if (v === null) return;
        c.fillText(v < 0 ? "\u2212" + Math.abs(v) : String(v), bar.x, (bar.y + bar.base) / 2);
      });
    });
    c.restore();
  },
};

const stub = { display: true, drawOnChartArea: false, drawTicks: true, offset: false, tickColor: "#ececec", tickWidth: 1 };

placeChart({ left: 69.5, top: 858.3, right: 676.5, bottom: 995 }, { l: 69, t: 5, r: 4, b: 80 }, {
  type: "bar",
  data: {
    labels: corrCells,
    datasets: [corrDataset(corrKir3dl3), corrDataset(corrN4bp2l1), corrDataset(corrIl18rap)],
  },
  options: {
    scales: {
      x: {
        type: "category",
        stacked: true,
        grid: Object.assign({ tickLength: 7 }, stub),
        border: { display: false },
        ticks: { font: { size: 11.5 }, color: "#4d4d4d", padding: -3, labelOffset: 5, autoSkip: false, minRotation: 37, maxRotation: 37 },
      },
      xTop: {
        type: "category",
        position: "top",
        labels: corrCells,
        grid: Object.assign({ tickLength: 4 }, stub),
        border: { display: false },
        ticks: { display: false, autoSkip: false },
      },
      y: {
        type: "linear",
        stacked: true,
        min: 0,
        max: 3,
        afterBuildTicks: function (scale) {
          scale.ticks = corrGenes.map((g, i) => ({ value: i + 0.5 }));
        },
        grid: Object.assign({ tickLength: 3 }, stub),
        border: { display: false },
        ticks: { font: { size: 12.5 }, color: "#4d4d4d", padding: 6, callback: (v) => corrGenes[Math.floor(v)] },
      },
      yRight: {
        type: "linear",
        position: "right",
        min: 0,
        max: 3,
        afterBuildTicks: function (scale) {
          scale.ticks = corrGenes.map((g, i) => ({ value: i + 0.5 }));
        },
        grid: Object.assign({ tickLength: 4 }, stub),
        border: { display: false },
        ticks: { display: false },
      },
    },
  },
  plugins: [corrLabels],
});

addText("Corr", 700, 890, { size: 11, anchor: "start", color: "#222" });
addBox(699, 899, 718, 967, {
  background: "linear-gradient(to top, #1a00ff, #aa8cff 25%, #ffffff 50%, #ffb39b 70%, #ff1a0a 100%)",
});
[["1.0",899.3],["0.5",916.7],["0.0",933.3],["\u22120.5",950],["\u22121.0",967]].forEach((t) =>
  addText(t[0], 743, t[1], { size: 10, anchor: "end", color: "#222" })
);

// ---- Panel letters
[["A",19,9.5],["B",18,185.5],["C",402,192.5],["D",17,481],["E",268,479],["F",524,474.5],["G",16.5,656.5],["H",14.5,847.5]].forEach((p) => {
  addText(p[0], p[1], p[2], { size: 17, anchor: "start", color: "#333", family: '"Noto Sans", sans-serif' });
});
</script>
</body>
</html>
